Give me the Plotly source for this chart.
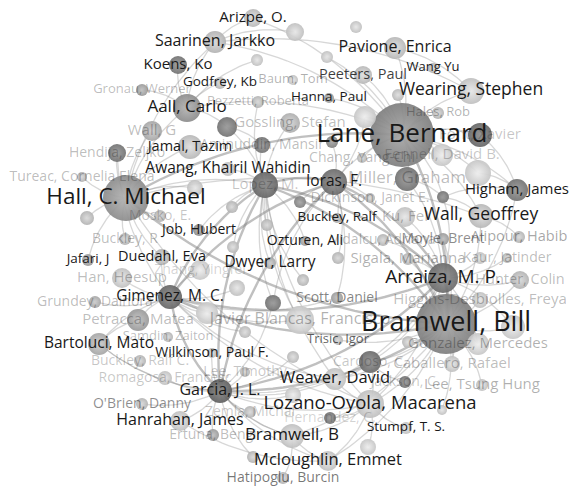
import numpy as np
import plotly.graph_objects as go

# ---------------- data (map coordinates, weights, scores) ----------------
node_labels = [
    "Arizpe, O.", "", "", "Saarinen, Jarkko", "", "", "Pavione, Enrica", "Koens, Ko", "Godfrey, Kb", "Baum, Tom",
    "Peeters, Paul", "Wang Yu", "Wearing, Stephen", "", "Gronau, Werner", "Aall, Carlo", "Pezzetti, Roberta", "", "Gossling, Stefan", "Wall, G",
    "Hanna, Paul", "", "Hales, Rob", "Lane, Bernard", "Font, Xavier", "Jamal, Tazim", "Aminuddin, Mansir", "Hendija, Zeljko", "", "Chang, Yang-Chi",
    "Fennell, David B.", "Awang, Khairil Wahidin", "Tureac, Cornelia Elena", "Hall, C. Michael", "Lopez, M.", "Ioras, F.", "Miller, Graham", "", "Dickinson, Janet E.", "",
    "Higham, James", "Buckley, Ralf", "Ku, Fei", "Wall, Geoffrey", "Mosko, E.", "", "", "", "Job, Hubert", "Buckley, R",
    "Ozturen, Ali", "Vidalcu, Adriana", "Moyle, Brent", "Alipour, Habib", "", "Jafari, J", "Duedahl, Eva", "Dwyer, Larry", "Sigala, Marianna", "Kaur, Jatinder",
    "Han, Heesup", "Zhang, Yingfei", "", "Arraiza, M. P.", "Hunter, Colin", "Gimenez, M. C.", "Grundey, Dainora", "", "", "Scott, Daniel",
    "Higgins-Desbiolles, Freya", "Petracca, Matea", "", "Javier Blancas, Francisco", "Bramwell, Bill", "", "Bartoluci, Mato", "Samdin, Zaiton", "Wilkinson, Paul F.", "Trisic, Igor",
    "Gonzalez, Mercedes", "Buckley, Ralf C.", "", "Cardoso, C.", "Caballero, Rafael", "Lee, Timothy", "Romagosa, Francesc", "Weaver, David", "Jackson, C.", "Lee, Tsung Hung",
    "Garcia, J. L.", "", "Lozano-Oyola, Macarena", "O'Brien, Danny", "Zemla, Michal", "Hanrahan, James", "Hernandez, C.", "Stumpf, T. S.", "Ertuna, Bengi", "Bramwell, B",
    "", "", "Mcloughlin, Emmet", "", "Hatipoglu, Burcin", "", "", "", "", "",
    "",
]
node_x = [
    253, 295, 356, 215, 257, 327, 395, 178, 220, 293,
    363, 433, 471, 398, 142, 187, 258, 227, 290, 152,
    329, 365, 438, 402, 480, 190, 262, 117, 332, 362,
    442, 228, 82, 126, 265, 334, 407, 478, 370, 443,
    517, 337, 405, 481, 160, 87, 195, 232, 199, 125,
    305, 383, 443, 519, 267, 88, 162, 270, 408, 507,
    122, 200, 303, 443, 520, 170, 95, 237, 273, 337,
    480, 138, 207, 300, 446, 513, 99, 168, 212, 338,
    478, 140, 245, 370, 452, 245, 165, 335, 405, 482,
    220, 293, 370, 142, 250, 180, 330, 406, 213, 292,
    442, 368, 328, 253, 283, 300, 233, 338, 408, 293,
    480,
]
node_y = [
    18, 32, 27, 42, 60, 57, 48, 65, 83, 80,
    75, 68, 91, 95, 90, 108, 102, 127, 123, 131,
    98, 117, 113, 135, 135, 147, 145, 153, 142, 158,
    155, 169, 177, 198, 185, 182, 179, 173, 198, 197,
    190, 218, 217, 216, 216, 218, 188, 207, 230, 239,
    241, 240, 239, 237, 225, 260, 257, 263, 259, 258,
    278, 270, 280, 278, 280, 297, 302, 288, 303, 298,
    300, 320, 313, 320, 324, 327, 344, 337, 353, 340,
    344, 361, 332, 362, 364, 372, 378, 379, 382, 385,
    391, 395, 404, 404, 412, 421, 418, 428, 435, 436,
    410, 447, 461, 457, 478, 202, 247, 258, 342, 357,
    258,
]
node_weight = [
    9, 9, 6, 11, 6, 6, 11, 9, 6, 5,
    9, 5, 13, 6, 6, 14, 6, 10, 10, 10,
    5, 11, 6, 32, 12, 12, 8, 9, 6, 5,
    11, 7, 5, 23, 13, 13, 12, 13, 5, 6,
    11, 5, 10, 12, 6, 7, 8, 6, 6, 6,
    5, 6, 6, 6, 6, 6, 8, 6, 6, 5,
    10, 10, 6, 15, 9, 12, 6, 8, 8, 6,
    8, 11, 11, 14, 30, 12, 11, 5, 5, 5,
    11, 6, 6, 11, 8, 5, 7, 11, 6, 6,
    12, 8, 14, 6, 6, 10, 6, 6, 6, 12,
    5, 8, 10, 6, 6, 6, 6, 6, 6, 6,
    6,
]
node_score = [  # lightness of each node (0 = black, 1 = white)
    .72, .75, .75, .70, .75, .75, .72, .45, .70, .75,
    .72, .70, .75, .72, .60, .55, .70, .45, .68, .65,
    .60, .78, .70, .50, .40, .72, .45, .45, .50, .70,
    .78, .75, .70, .55, .40, .42, .45, .78, .70, .45,
    .45, .65, .75, .72, .70, .70, .75, .70, .55, .70,
    .60, .70, .60, .70, .70, .60, .70, .65, .70, .70,
    .75, .78, .70, .42, .70, .40, .65, .75, .45, .60,
    .75, .60, .78, .78, .50, .78, .65, .70, .72, .70,
    .78, .70, .72, .42, .75, .70, .75, .75, .45, .75,
    .38, .78, .75, .70, .70, .75, .45, .75, .60, .75,
    .75, .78, .75, .70, .70, .50, .72, .70, .72, .72,
    .75,
]
label_size = [
    15, 0, 0, 16, 0, 0, 16, 15, 13.5, 13,
    14.5, 13, 17.5, 0, 13, 17, 13, 0, 15, 15,
    13.5, 0, 13, 26, 15, 14.5, 14, 14, 0, 14,
    15, 15.5, 14, 22.5, 15, 15.5, 17, 0, 14, 0,
    15, 13.5, 15, 17.5, 14, 0, 0, 0, 14, 14,
    14, 14, 14, 14.5, 0, 13.5, 14.5, 15.5, 15, 14,
    15, 14, 0, 19, 14.5, 15.5, 14, 0, 0, 14,
    15, 15, 0, 16, 27, 0, 15.5, 13, 14, 13,
    15, 14, 0, 14, 15, 14, 14, 16.5, 14, 15,
    16, 0, 18.5, 14, 14, 16, 14, 13.5, 14, 17,
    0, 0, 16.5, 0, 14, 0, 0, 0, 0, 0,
    0,
]
label_alpha = [
    1, 0, 0, 1, 0, 0, 1, 1, 1, .35,
    .85, 1, 1, 0, .3, 1, .3, 0, .3, .3,
    1, 0, .35, 1, .25, 1, .3, .3, 0, .3,
    .25, 1, .3, 1, .25, 1, .3, 0, .3, 0,
    1, 1, .3, 1, .25, 0, 0, 0, 1, .3,
    1, .3, .5, .4, 0, 1, 1, 1, .35, .3,
    .3, .2, 0, 1, .3, 1, .3, 0, 0, .55,
    .3, .3, 0, .35, 1, 0, 1, .3, 1, .7,
    .35, .25, 0, .25, .3, .25, .25, 1, .25, .35,
    1, 0, 1, .5, .25, 1, .2, 1, .3, 1,
    0, 0, 1, 0, .6, 0, 0, 0, 0, 0,
    0,
]

edge_src = [34, 34, 34, 35, 35, 65, 90, 65, 90, 35, 63, 34, 23, 33, 33, 65, 34, 35,
            34, 34, 34, 34, 34, 34, 34, 34, 34, 34, 34, 34, 35, 35, 35, 35, 35, 35,
            65, 65, 65, 65, 65, 65, 65, 65, 65, 90, 90, 90, 90, 90, 90, 90, 90, 90, 90,
            63, 63, 63, 63, 63, 63, 63, 74, 74, 74, 74, 74, 74, 74, 74, 74,
            23, 23, 23, 23, 23, 23, 23, 23, 23, 23, 23, 23,
            33, 33, 33, 33, 33, 33, 33, 33, 33,
            15, 15, 15, 17, 3, 83, 83, 83, 87, 92, 92, 36, 39, 39, 40, 12, 24,
            0, 3, 76, 95, 27, 14, 32, 40, 64, 66, 60, 71, 86, 93, 98, 99, 104, 103,
            62, 107, 108, 109, 106, 110, 70, 89, 97, 101, 100, 45, 49, 55, 44, 48,
            61, 82, 85, 94, 91, 96, 79, 28, 29, 22, 13, 21, 10, 5, 1, 4, 8, 16, 18,
            20, 42, 51, 53, 59, 64, 75, 80, 84, 52, 58]
edge_dst = [65, 90, 35, 65, 90, 90, 63, 74, 74, 63, 74, 74, 74, 23, 74, 63, 63, 74,
            73, 68, 57, 47, 26, 31, 17, 33, 50, 54, 92, 87, 105, 41, 23, 38, 68, 69,
            72, 67, 73, 69, 71, 76, 56, 92, 87, 92, 87, 99, 68, 83, 78, 95, 76, 102, 99,
            58, 52, 83, 92, 87, 36, 39, 83, 92, 87, 80, 75, 84, 99, 102, 43,
            36, 24, 30, 37, 12, 21, 3, 6, 15, 40, 43, 39,
            15, 25, 27, 19, 3, 56, 92, 43, 46,
            7, 3, 17, 26, 0, 92, 87, 88, 92, 99, 102, 39, 40, 43, 37, 6, 40,
            23, 12, 90, 102, 65, 15, 33, 74, 74, 65, 65, 76, 90, 90, 90, 102, 99, 90,
            34, 35, 74, 90, 34, 63, 74, 74, 92, 92, 74, 33, 33, 33, 33, 34,
            65, 65, 90, 90, 90, 92, 74, 35, 23, 23, 23, 35, 23, 23, 3, 15, 15, 34, 34,
            23, 63, 63, 43, 63, 63, 63, 63, 63, 74, 74]
edge_strength = [2] * 18 + [1] * (len(edge_src) - 18)

# ---------------- figure ----------------
W, H = 571, 486
cx, cy = 300, 250

fig = go.Figure()


def curve(i, j, n=24):
    p0 = np.array([node_x[i], node_y[i]], float)
    p2 = np.array([node_x[j], node_y[j]], float)
    m = (p0 + p2) / 2
    d = p2 - p0
    perp = np.array([-d[1], d[0]]) * 0.16
    c1, c2 = m + perp, m - perp
    ctr = np.array([cx, cy])
    c = c1 if np.linalg.norm(c1 - ctr) > np.linalg.norm(c2 - ctr) else c2
    t = np.linspace(0, 1, n)[:, None]
    return (1 - t) ** 2 * p0 + 2 * (1 - t) * t * c + t ** 2 * p2


for strength, width, col in [(1, 1.3, "rgba(150,150,150,0.38)"), (2, 2.4, "rgba(130,130,130,0.5)")]:
    xs, ys = [], []
    for s, d, w in zip(edge_src, edge_dst, edge_strength):
        if w != strength:
            continue
        pts = curve(s, d)
        xs += list(pts[:, 0]) + [None]
        ys += list(pts[:, 1]) + [None]
    fig.add_trace(go.Scatter(x=xs, y=ys, mode="lines", line=dict(color=col, width=width),
                             hoverinfo="skip", showlegend=False))

order = sorted(range(len(node_x)), key=lambda k: -node_weight[k])


def gray(v, add=0):
    g = int(min(255, 255 * v + add))
    return f"rgb({g},{g},{g})"


fig.add_trace(go.Scatter(
    x=[node_x[k] for k in order], y=[node_y[k] for k in order], mode="markers",
    marker=dict(size=[2 * node_weight[k] for k in order],
                color=[gray(node_score[k]) for k in order],
                gradient=dict(type="radial", color=[gray(node_score[k], 40) for k in order]),
                line=dict(width=0), opacity=0.93),
    hoverinfo="skip", showlegend=False, cliponaxis=False))

for lo, hi in [(0.01, 0.9), (0.9, 1.01)]:
    idx = [k for k in range(len(node_x)) if node_labels[k] and lo <= label_alpha[k] < hi]
    fig.add_trace(go.Scatter(
        x=[node_x[k] for k in idx], y=[node_y[k] for k in idx], mode="text",
        text=[node_labels[k] for k in idx],
        textposition="middle center",
        textfont=dict(family="Open Sans", size=[label_size[k] for k in idx],
                      color=[f"rgba(25,25,25,{label_alpha[k]})" for k in idx]),
        hoverinfo="skip", showlegend=False, cliponaxis=False))

fig.update_layout(
    width=W, height=H, margin=dict(l=0, r=0, t=0, b=0),
    paper_bgcolor="white", plot_bgcolor="white",
    xaxis=dict(range=[0, W], visible=False, fixedrange=True),
    yaxis=dict(range=[H, 0], visible=False, fixedrange=True),
)
fig.write_html("out.html")
